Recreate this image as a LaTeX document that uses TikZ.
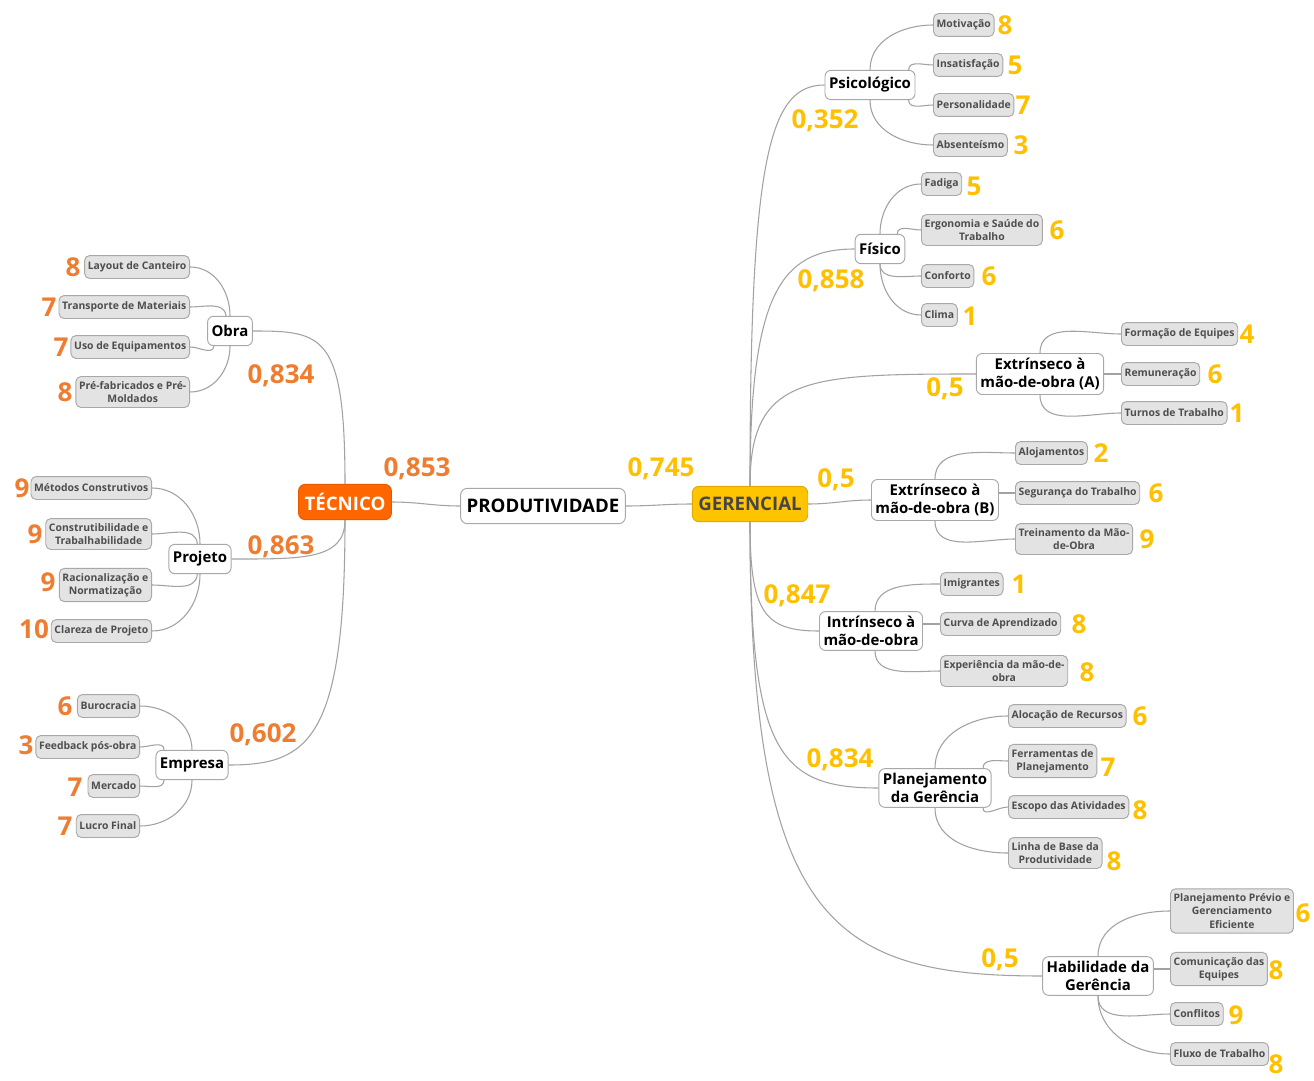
\documentclass[tikz,border=0pt]{standalone}
\usepackage{fontspec}
\setmainfont{Open Sans}
\definecolor{linkgray}{HTML}{A2A2A2}
\definecolor{boxborder}{HTML}{A8A8A8}
\definecolor{leaffill}{HTML}{E3E3E3}
\definecolor{leaftext}{HTML}{4E4E4E}
\definecolor{tecorange}{HTML}{FF6600}
\definecolor{tecborder}{HTML}{E55A00}
\definecolor{gerfill}{HTML}{FFC400}
\definecolor{gerborder}{HTML}{E0A800}
\definecolor{numorange}{HTML}{EE7D31}
\definecolor{numyellow}{HTML}{FFC000}
\begin{document}
\begin{tikzpicture}[x=0.75pt,y=-0.75pt,
  link/.style={draw=linkgray,line width=0.8pt},
  leaf/.style={draw=boxborder,fill=leaffill,rounded corners=3.8pt,line width=0.7pt,
    text=leaftext,font=\bfseries\fontsize{7.8}{10}\selectfont,align=center,
    inner xsep=2.4pt,inner ysep=3.6pt,minimum height=17.2pt},
  topic/.style={draw=boxborder,fill=white,rounded corners=4.5pt,line width=0.7pt,
    text=black,font=\bfseries\fontsize{11.2}{13.8}\selectfont,align=center,
    inner xsep=3pt,inner ysep=3.3pt,minimum height=22pt},
  rootbox/.style={rounded corners=5pt,line width=0.7pt,align=center,
    font=\bfseries\fontsize{14}{16}\selectfont,inner xsep=4.5pt,inner ysep=3pt,minimum height=26.5pt},
  numO/.style={text=numorange,font=\bfseries\fontsize{19.5}{21}\selectfont,inner sep=0pt},
  numY/.style={text=numyellow,font=\bfseries\fontsize{19.5}{21}\selectfont,inner sep=0pt}]

% canvas
\useasboundingbox[fill=white] (0,0) rectangle (1314,1081);

% ---------- centre ----------
\node[rootbox,draw=boxborder,fill=white,text=black] (prod) at (543,506) {PRODUTIVIDADE};
\node[rootbox,draw=tecborder,fill=tecorange,text=white] (tec) at (345,502) {TÉCNICO};
\node[rootbox,draw=gerborder,fill=gerfill,text=leaftext!90!black] (ger) at (750,504) {GERENCIAL};
\node[numO] (n-tec) at (417,469) {0,853};
\node[numY] (n-ger) at (661,469) {0,745};
\draw[link] (tec.east) to[out=0,in=180] (prod.west);
\draw[link] (prod.east) to[out=0,in=180] (ger.west);

% ---------- technical side ----------
\node[topic] (obra) at (230,331) {Obra};
\node[topic] (proj) at (200,559) {Projeto};
\node[topic] (emp)  at (192,765) {Empresa};
\node[numO] (n-obra) at (281,376) {0,834};
\node[numO] (n-proj) at (281,547) {0,863};
\node[numO] (n-emp)  at (263,735) {0,602};
\draw[link] (tec.north) .. controls +(0,-150) and +(70,0) .. (obra.east);
\draw[link] (tec.south) .. controls +(0,40) and +(70,0) .. (proj.east);
\draw[link] (tec.south) .. controls +(0,220) and +(80,0) .. (emp.east);

% Obra
\node[leaf,anchor=east] (lay) at (190,267) {Layout de Canteiro};
\node[leaf,anchor=east] (tra) at (190,307) {Transporte de Materiais};
\node[leaf,anchor=east] (uso) at (190,347) {Uso de Equipamentos};
\node[leaf,anchor=east] (pre) at (190,392) {Pré-fabricados e Pré-\\Moldados};
\node[numO] (n-lay) at (73,267) {8};
\node[numO] (n-tra) at (49,307) {7};
\node[numO] (n-uso) at (61,347) {7};
\node[numO] (n-pre) at (65,392) {8};
\draw[link] (obra.north) to[out=90,in=0] (lay.east);
\draw[link] ([xshift=-3pt]obra.north) to[out=95,in=0] (tra.east);
\draw[link] ([xshift=-12pt]obra.south) to[out=-100,in=0] (uso.east);
\draw[link] (obra.south) to[out=-90,in=0] (pre.east);

% Projeto
\node[leaf,anchor=east] (met) at (152,488) {Métodos Construtivos};
\node[leaf,anchor=east] (con) at (152,534) {Construtibilidade e\\Trabalhabilidade};
\node[leaf,anchor=east] (rac) at (152,585) {Racionalização e\\Normatização};
\node[leaf,anchor=east] (cla) at (152,631) {Clareza de Projeto};
\node[numO] (n-met) at (22,488) {9};
\node[numO] (n-con) at (35,534) {9};
\node[numO] (n-rac) at (48,582) {9};
\node[numO] (n-cla) at (34,629) {10};
\draw[link] (proj.north) to[out=90,in=0] (met.east);
\draw[link] ([xshift=-2pt]proj.north) to[out=95,in=0] (con.east);
\draw[link] ([xshift=-2pt]proj.south) to[out=-95,in=0] (rac.east);
\draw[link] (proj.south) to[out=-90,in=0] (cla.east);

% Empresa
\node[leaf,anchor=east] (bur) at (140,706) {Burocracia};
\node[leaf,anchor=east] (fee) at (140,747) {Feedback pós-obra};
\node[leaf,anchor=east] (mer) at (140,786) {Mercado};
\node[leaf,anchor=east] (luc) at (140,826) {Lucro Final};
\node[numO] (n-bur) at (65,706) {6};
\node[numO] (n-fee) at (26,745) {3};
\node[numO] (n-mer) at (75,787) {7};
\node[numO] (n-luc) at (65,826) {7};
\draw[link] (emp.north) to[out=90,in=0] (bur.east);
\draw[link] ([xshift=-21pt]emp.north) to[out=90,in=0] (fee.east);
\draw[link] ([xshift=-21pt]emp.south) to[out=-90,in=0] (mer.east);
\draw[link] (emp.south) to[out=-90,in=0] (luc.east);

% ---------- management side ----------
\node[topic] (psi)  at (870,85)  {Psicológico};
\node[topic] (fis)  at (880,249) {Físico};
\node[topic] (exa)  at (1040,374) {Extrínseco à\\mão-de-obra (A)};
\node[topic] (exb)  at (935,500) {Extrínseco à\\mão-de-obra (B)};
\node[topic] (intr) at (871,631) {Intrínseco à\\mão-de-obra};
\node[topic] (plan) at (935,788) {Planejamento\\da Gerência};
\node[topic] (hab)  at (1098,976) {Habilidade da\\Gerência};
\node[numY] (n-psi)  at (825,121) {0,352};
\node[numY] (n-fis)  at (831,281) {0,858};
\node[numY] (n-exa)  at (945,389) {0,5};
\node[numY] (n-exb)  at (836,480) {0,5};
\node[numY] (n-intr) at (797,596) {0,847};
\node[numY] (n-plan) at (840,760) {0,834};
\node[numY] (n-hab)  at (1000,960) {0,5};
\draw[link] (ger.north) .. controls +(0,-330) and +(-55,0) .. (psi.west);
\draw[link] (ger.north) .. controls +(0,-190) and +(-75,0) .. (fis.west);
\draw[link] (ger.north) .. controls +(0,-110) and +(-170,0) .. (exa.west);
\draw[link] (ger.east) to[out=0,in=180] (exb.west);
\draw[link] (ger.south) .. controls +(0,90) and +(-55,0) .. (intr.west);
\draw[link] (ger.south) .. controls +(0,230) and +(-100,0) .. (plan.west);
\draw[link] (ger.south) .. controls +(0,400) and +(-210,0) .. (hab.west);

% Psicológico
\node[leaf,anchor=west] (mot) at (933,25)  {Motivação};
\node[leaf,anchor=west] (ins) at (933,65)  {Insatisfação};
\node[leaf,anchor=west] (per) at (933,105) {Personalidade};
\node[leaf,anchor=west] (abs) at (933,145) {Absenteísmo};
\node[numY] (n-mot) at (1005,25)  {8};
\node[numY] (n-ins) at (1015,65)  {5};
\node[numY] (n-per) at (1023,105) {7};
\node[numY] (n-abs) at (1021,145) {3};
\draw[link] (psi.north) to[out=90,in=180] (mot.west);
\draw[link] ([xshift=29pt]psi.north) to[out=90,in=180] (ins.west);
\draw[link] ([xshift=29pt]psi.south) to[out=-90,in=180] (per.west);
\draw[link] (psi.south) to[out=-90,in=180] (abs.west);

% Físico
\node[leaf,anchor=west] (fad) at (921,184) {Fadiga};
\node[leaf,anchor=west] (erg) at (921,230) {Ergonomia e Saúde do\\Trabalho};
\node[leaf,anchor=west] (cnf) at (921,276) {Conforto};
\node[leaf,anchor=west] (cli) at (921,315) {Clima};
\node[numY] (n-fad) at (974,186)  {5};
\node[numY] (n-erg) at (1057,230) {6};
\node[numY] (n-cnf) at (989,276)  {6};
\node[numY] (n-cli) at (970,316)  {1};
\draw[link] (fis.north) to[out=90,in=180] (fad.west);
\draw[link] ([xshift=13pt]fis.north) to[out=90,in=180] (erg.west);
\draw[link] (fis.south) to[out=-90,in=180] (cnf.west);
\draw[link] (fis.south) to[out=-90,in=180] (cli.west);

% Extrínseco (A)
\node[leaf,anchor=west] (for) at (1121,334) {Formação de Equipes};
\node[leaf,anchor=west] (rem) at (1121,374) {Remuneração};
\node[leaf,anchor=west] (tur) at (1121,413) {Turnos de Trabalho};
\node[numY] (n-for) at (1247,334) {4};
\node[numY] (n-rem) at (1215,374) {6};
\node[numY] (n-tur) at (1237,413) {1};
\draw[link] (exa.north) to[out=90,in=180] (for.west);
\draw[link] (exa.east |- rem.west) -- (rem.west);
\draw[link] (exa.south) to[out=-90,in=180] (tur.west);

% Extrínseco (B)
\node[leaf,anchor=west] (alo) at (1015,453) {Alojamentos};
\node[leaf,anchor=west] (seg) at (1015,493) {Segurança do Trabalho};
\node[leaf,anchor=west] (tre) at (1015,539) {Treinamento da Mão-\\de-Obra};
\node[numY] (n-alo) at (1101,453) {2};
\node[numY] (n-seg) at (1156,493) {6};
\node[numY] (n-tre) at (1147,539) {9};
\draw[link] (exb.north) to[out=90,in=180] (alo.west);
\draw[link] (exb.east |- seg.west) -- (seg.west);
\draw[link] (exb.south) to[out=-90,in=180] (tre.west);

% Intrínseco
\node[leaf,anchor=west] (imi) at (940,584) {Imigrantes};
\node[leaf,anchor=west] (cur) at (940,624) {Curva de Aprendizado};
\node[leaf,anchor=west] (exp) at (940,671) {Experiência da mão-de-\\obra};
\node[numY] (n-imi) at (1019,584) {1};
\node[numY] (n-cur) at (1079,624) {8};
\node[numY] (n-exp) at (1087,672) {8};
\draw[link] ([xshift=3pt]intr.north) to[out=90,in=180] (imi.west);
\draw[link] (intr.east |- cur.west) -- (cur.west);
\draw[link] ([xshift=3pt]intr.south) to[out=-90,in=180] (exp.west);

% Planejamento da Gerência
\node[leaf,anchor=west] (alc) at (1008,716) {Alocação de Recursos};
\node[leaf,anchor=west] (fer) at (1008,761) {Ferramentas de\\Planejamento};
\node[leaf,anchor=west] (esc) at (1008,807) {Escopo das Atividades};
\node[leaf,anchor=west] (lin) at (1008,853) {Linha de Base da\\Produtividade};
\node[numY] (n-alc) at (1140,716) {6};
\node[numY] (n-fer) at (1108,767) {7};
\node[numY] (n-esc) at (1140,810) {8};
\node[numY] (n-lin) at (1114,861) {8};
\draw[link] (plan.north) to[out=90,in=180] (alc.west);
\draw[link] ([xshift=36pt]plan.north) to[out=90,in=180] (fer.west);
\draw[link] ([xshift=36pt]plan.south) to[out=-90,in=180] (esc.west);
\draw[link] (plan.south) to[out=-90,in=180] (lin.west);

% Habilidade da Gerência
\node[leaf,anchor=west] (ppr) at (1170,911)  {Planejamento Prévio e\\Gerenciamento\\Eficiente};
\node[leaf,anchor=west] (com) at (1170,969)  {Comunicação das\\Equipes};
\node[leaf,anchor=west] (cfl) at (1170,1014) {Conflitos};
\node[leaf,anchor=west] (flu) at (1170,1054) {Fluxo de Trabalho};
\node[numY] (n-ppr) at (1303,913)  {6};
\node[numY] (n-com) at (1276,970)  {8};
\node[numY] (n-cfl) at (1236,1015) {9};
\node[numY] (n-flu) at (1276,1064) {8};
\draw[link] (hab.north) to[out=90,in=180] (ppr.west);
\draw[link] (hab.east |- com.west) -- (com.west);
\draw[link] (hab.south) to[out=-90,in=180] (cfl.west);
\draw[link] (hab.south) to[out=-90,in=180] (flu.west);
\end{tikzpicture}
\end{document}
